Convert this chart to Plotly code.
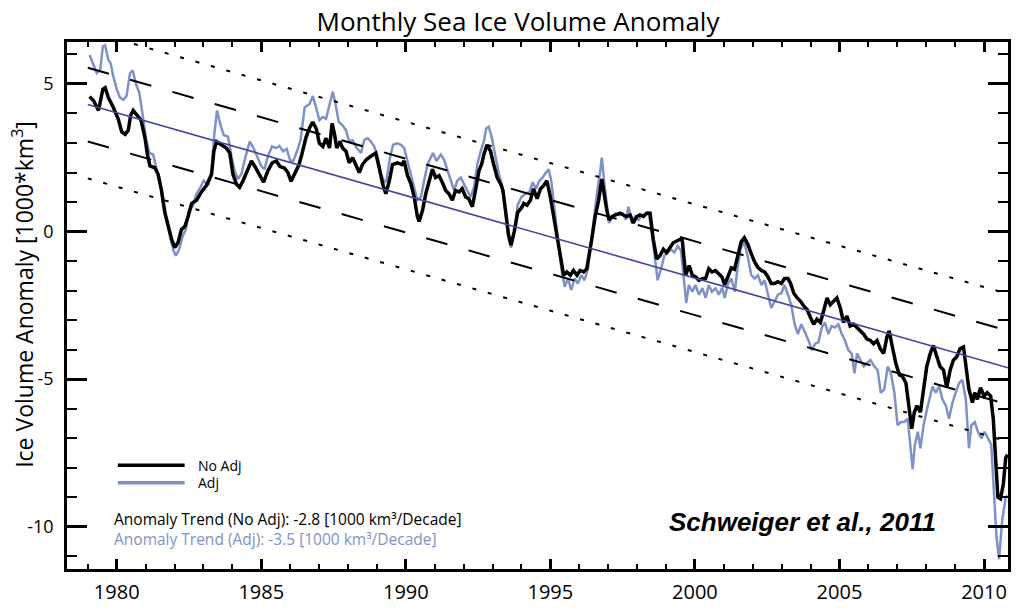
import numpy as np
import plotly.graph_objects as go

# ---- monthly anomaly series [1000 km^3] ----
noadj_t = [1979.06, 1979.20, 1979.37, 1979.52, 1979.60, 1979.71, 1979.88, 1980.05, 1980.17, 1980.29,
           1980.40, 1980.48, 1980.57, 1980.71, 1980.84, 1980.98, 1981.06, 1981.15, 1981.32, 1981.43,
           1981.55, 1981.67, 1981.78, 1981.90, 1982.01, 1982.12, 1982.24, 1982.36, 1982.47, 1982.59,
           1982.76, 1982.93, 1983.10, 1983.28, 1983.36, 1983.45, 1983.62, 1983.79, 1983.91, 1984.02,
           1984.14, 1984.25, 1984.37, 1984.54, 1984.66, 1984.77, 1984.94, 1985.08, 1985.23, 1985.38,
           1985.52, 1985.65, 1985.80, 1985.92, 1986.03, 1986.18, 1986.30, 1986.40, 1986.55, 1986.69,
           1986.78, 1986.90, 1987.01, 1987.13, 1987.24, 1987.36, 1987.45, 1987.53, 1987.61, 1987.72,
           1987.81, 1987.93, 1988.04, 1988.16, 1988.28, 1988.39, 1988.50, 1988.64, 1988.79, 1988.96,
           1989.08, 1989.20, 1989.31, 1989.43, 1989.54, 1989.71, 1989.86, 1989.94, 1990.06, 1990.18,
           1990.29, 1990.40, 1990.46, 1990.58, 1990.69, 1990.80, 1990.92, 1991.03, 1991.15, 1991.26,
           1991.38, 1991.49, 1991.61, 1991.72, 1991.84, 1991.95, 1992.07, 1992.18, 1992.30, 1992.41,
           1992.53, 1992.62, 1992.70, 1992.81, 1992.93, 1993.04, 1993.16, 1993.28, 1993.36, 1993.45,
           1993.55, 1993.64, 1993.75, 1993.87, 1994.00, 1994.08, 1994.19, 1994.31, 1994.42, 1994.54,
           1994.66, 1994.77, 1994.88, 1995.00, 1995.11, 1995.23, 1995.34, 1995.46, 1995.57, 1995.69,
           1995.80, 1995.92, 1996.03, 1996.15, 1996.26, 1996.34, 1996.43, 1996.55, 1996.67, 1996.78,
           1996.87, 1996.95, 1997.03, 1997.14, 1997.26, 1997.41, 1997.53, 1997.64, 1997.76, 1997.87,
           1997.99, 1998.10, 1998.22, 1998.33, 1998.45, 1998.56, 1998.68, 1998.79, 1998.91, 1999.02,
           1999.14, 1999.25, 1999.37, 1999.48, 1999.56, 1999.68, 1999.80, 1999.91, 2000.03, 2000.14,
           2000.26, 2000.37, 2000.48, 2000.59, 2000.71, 2000.83, 2000.94, 2001.03, 2001.15, 2001.26,
           2001.37, 2001.49, 2001.60, 2001.71, 2001.83, 2001.95, 2002.07, 2002.18, 2002.30, 2002.41,
           2002.53, 2002.64, 2002.76, 2002.87, 2002.99, 2003.10, 2003.22, 2003.31, 2003.42, 2003.54,
           2003.66, 2003.77, 2003.88, 2004.00, 2004.11, 2004.22, 2004.34, 2004.45, 2004.57, 2004.68,
           2004.80, 2004.91, 2005.03, 2005.14, 2005.26, 2005.37, 2005.49, 2005.60, 2005.72, 2005.83,
           2005.95, 2006.07, 2006.18, 2006.30, 2006.41, 2006.53, 2006.64, 2006.72, 2006.83, 2006.95,
           2007.07, 2007.18, 2007.30, 2007.41, 2007.50, 2007.59, 2007.68, 2007.80, 2007.91, 2008.02,
           2008.14, 2008.25, 2008.37, 2008.48, 2008.60, 2008.71, 2008.83, 2008.94, 2009.06, 2009.17,
           2009.29, 2009.40, 2009.48, 2009.60, 2009.68, 2009.77, 2009.88, 2010.00, 2010.11, 2010.23,
           2010.32, 2010.40, 2010.48, 2010.57, 2010.67, 2010.75, 2010.81]
noadj_v = [4.57, 4.43, 4.10, 4.82, 4.87, 4.54, 4.21, 3.82, 3.38, 3.29,
           3.43, 3.93, 4.10, 3.95, 3.77, 3.16, 2.61, 2.22, 2.16, 1.94,
           1.39, 0.62, 0.18, -0.27, -0.54, -0.38, 0.07, 0.18, 0.51, 0.95,
           1.06, 1.34, 1.56, 1.94, 2.72, 3.05, 2.94, 2.83, 2.66, 1.94,
           1.61, 1.50, 1.72, 2.16, 2.39, 2.22, 1.94, 1.67, 2.06, 2.33,
           2.39, 2.20, 2.15, 2.00, 1.70, 2.00, 2.25, 2.60, 3.20, 3.55,
           3.71, 3.49, 2.99, 2.88, 3.16, 2.83, 3.66, 3.32, 2.83, 3.05,
           2.83, 2.72, 2.33, 2.50, 2.27, 2.00, 2.27, 2.44, 2.55, 2.66,
           2.16, 1.61, 1.28, 1.72, 2.27, 2.33, 2.27, 2.39, 1.89, 1.61,
           1.17, 0.51, 0.34, 0.73, 1.28, 1.67, 2.11, 1.83, 1.89, 1.67,
           1.39, 1.28, 1.06, 1.39, 1.34, 1.45, 1.17, 1.11, 0.84, 1.39,
           2.06, 2.27, 2.61, 2.94, 2.72, 2.27, 1.83, 1.61, 1.39, 0.70,
           -0.10, -0.46, 0.00, 0.65, 0.80, 0.95, 0.89, 1.06, 1.45, 1.11,
           1.45, 1.56, 1.72, 1.17, 0.51, -0.16, -0.93, -1.48, -1.37, -1.48,
           -1.32, -1.48, -1.32, -1.37, -1.26, -0.82, -0.27, 0.51, 1.06, 1.78,
           1.17, 0.73, 0.40, 0.51, 0.56, 0.62, 0.56, 0.51, 0.56, 0.29,
           0.51, 0.56, 0.51, 0.62, 0.62, -0.27, -0.93, -0.82, -0.60, -0.71,
           -0.54, -0.38, -0.32, -0.27, -0.27, -1.48, -1.15, -1.48, -1.54, -1.65,
           -1.59, -1.59, -1.26, -1.37, -1.32, -1.43, -1.55, -1.81, -1.50, -1.23,
           -1.28, -0.82, -0.35, -0.21, -0.43, -0.76, -1.04, -1.21, -1.32, -1.37,
           -1.54, -1.76, -1.76, -1.70, -1.76, -1.59, -1.59, -1.76, -2.09, -2.25,
           -2.37, -2.53, -2.64, -2.92, -3.14, -2.97, -3.08, -2.70, -2.25, -2.48,
           -2.37, -2.25, -2.59, -3.08, -2.86, -3.20, -3.14, -3.25, -3.36, -3.47,
           -3.64, -3.69, -3.80, -3.69, -3.97, -4.13, -3.58, -3.36, -3.91, -4.46,
           -4.85, -4.91, -5.13, -5.90, -6.68, -6.12, -5.90, -6.12, -5.35, -4.57,
           -4.13, -3.86, -4.24, -4.57, -4.69, -5.29, -4.69, -4.36, -4.24, -3.97,
           -3.91, -4.80, -5.35, -5.79, -5.46, -5.68, -5.29, -5.57, -5.46, -5.57,
           -6.34, -7.67, -9.00, -9.05, -8.55, -7.67, -7.55]

adj_t = [1979.06, 1979.20, 1979.31, 1979.43, 1979.52, 1979.60, 1979.71, 1979.79, 1979.88, 1980.00,
         1980.11, 1980.23, 1980.34, 1980.46, 1980.55, 1980.67, 1980.78, 1980.90, 1981.01, 1981.13,
         1981.26, 1981.38, 1981.49, 1981.61, 1981.72, 1981.84, 1981.95, 1982.04, 1982.16, 1982.28,
         1982.39, 1982.50, 1982.62, 1982.76, 1982.87, 1983.01, 1983.16, 1983.28, 1983.36, 1983.47,
         1983.59, 1983.70, 1983.85, 1983.97, 1984.08, 1984.19, 1984.31, 1984.46, 1984.60, 1984.73,
         1984.88, 1985.00, 1985.11, 1985.23, 1985.37, 1985.52, 1985.63, 1985.75, 1985.88, 1986.00,
         1986.11, 1986.23, 1986.36, 1986.50, 1986.67, 1986.78, 1986.88, 1987.01, 1987.13, 1987.24,
         1987.38, 1987.47, 1987.56, 1987.68, 1987.81, 1987.93, 1988.04, 1988.16, 1988.30, 1988.45,
         1988.56, 1988.68, 1988.79, 1988.91, 1989.03, 1989.14, 1989.26, 1989.33, 1989.45, 1989.56,
         1989.71, 1989.83, 1989.94, 1990.06, 1990.18, 1990.29, 1990.40, 1990.52, 1990.63, 1990.75,
         1990.86, 1990.94, 1991.06, 1991.21, 1991.32, 1991.43, 1991.55, 1991.67, 1991.78, 1991.90,
         1992.01, 1992.12, 1992.24, 1992.36, 1992.47, 1992.59, 1992.70, 1992.78, 1992.87, 1992.98,
         1993.10, 1993.22, 1993.33, 1993.45, 1993.55, 1993.64, 1993.75, 1993.87, 1994.00, 1994.14,
         1994.28, 1994.39, 1994.50, 1994.62, 1994.73, 1994.85, 1994.94, 1995.03, 1995.15, 1995.26,
         1995.38, 1995.50, 1995.61, 1995.72, 1995.84, 1995.95, 1996.07, 1996.18, 1996.30, 1996.38,
         1996.50, 1996.61, 1996.72, 1996.78, 1996.87, 1996.95, 1997.03, 1997.14, 1997.26, 1997.38,
         1997.49, 1997.61, 1997.70, 1997.82, 1997.93, 1998.05, 1998.16, 1998.28, 1998.39, 1998.48,
         1998.60, 1998.71, 1998.83, 1998.94, 1999.06, 1999.17, 1999.29, 1999.40, 1999.52, 1999.61,
         1999.70, 1999.79, 1999.91, 2000.02, 2000.14, 2000.26, 2000.37, 2000.48, 2000.59, 2000.71,
         2000.83, 2000.94, 2001.03, 2001.15, 2001.26, 2001.38, 2001.47, 2001.58, 2001.70, 2001.82,
         2001.95, 2002.07, 2002.18, 2002.30, 2002.41, 2002.53, 2002.64, 2002.76, 2002.87, 2002.99,
         2003.10, 2003.22, 2003.33, 2003.45, 2003.56, 2003.68, 2003.79, 2003.93, 2004.05, 2004.16,
         2004.27, 2004.39, 2004.50, 2004.61, 2004.73, 2004.85, 2004.96, 2005.08, 2005.19, 2005.31,
         2005.42, 2005.52, 2005.61, 2005.72, 2005.84, 2005.95, 2006.07, 2006.21, 2006.32, 2006.43,
         2006.55, 2006.67, 2006.78, 2006.90, 2007.01, 2007.13, 2007.24, 2007.36, 2007.45, 2007.53,
         2007.61, 2007.71, 2007.80, 2007.91, 2008.03, 2008.14, 2008.22, 2008.33, 2008.45, 2008.56,
         2008.68, 2008.79, 2008.91, 2009.02, 2009.14, 2009.25, 2009.37, 2009.48, 2009.56, 2009.68,
         2009.79, 2009.91, 2010.02, 2010.14, 2010.25, 2010.34, 2010.43, 2010.52, 2010.63, 2010.75,
         2010.81]
adj_v = [5.98, 5.64, 5.37, 5.48, 6.27, 6.31, 5.81, 5.70, 5.26, 4.82,
         4.54, 4.46, 4.59, 5.37, 5.46, 4.98, 4.71, 3.93, 3.16, 2.66,
         2.61, 2.11, 1.78, 0.84, 0.34, -0.16, -0.60, -0.82, -0.60, -0.16,
         0.07, 0.73, 0.84, 1.28, 1.45, 1.72, 1.56, 1.94, 3.16, 4.10,
         3.60, 3.27, 3.21, 2.55, 2.06, 1.78, 1.94, 2.55, 3.05, 2.83,
         2.50, 2.22, 2.11, 2.55, 2.88, 2.83, 2.90, 2.72, 2.80, 2.40,
         2.40, 2.70, 3.10, 4.20, 4.32, 4.59, 4.26, 3.77, 3.88, 3.82,
         4.37, 4.73, 4.37, 3.71, 3.60, 3.43, 3.05, 3.10, 2.83, 2.66,
         3.10, 3.16, 3.05, 2.88, 2.50, 1.94, 1.67, 1.72, 2.50, 2.94,
         2.99, 2.94, 2.83, 2.39, 1.94, 1.45, 1.06, 1.17, 1.72, 2.27,
         2.50, 2.66, 2.39, 2.61, 2.44, 2.11, 1.72, 1.39, 1.72, 1.83,
         1.61, 1.39, 1.17, 1.50, 2.27, 2.72, 3.05, 3.49, 3.55, 3.16,
         2.50, 1.95, 1.55, 0.62, -0.20, -0.55, 0.00, 0.90, 1.17, 1.28,
         1.34, 1.67, 1.45, 1.72, 1.83, 2.00, 2.11, 1.72, 0.62, -0.38,
         -1.26, -1.87, -1.59, -1.98, -1.59, -1.76, -1.48, -1.65, -1.26, -0.60,
         0.40, 1.28, 2.00, 2.50, 1.61, 0.95, 0.29, 0.51, 0.62, 0.56,
         0.62, 0.40, 0.84, 0.29, 0.51, 0.40, 0.56, 0.56, 0.67, 0.18,
         -0.82, -1.65, -1.26, -0.82, -0.71, -0.60, -0.71, -0.49, -0.65, -1.48,
         -2.42, -1.81, -2.04, -1.81, -2.14, -1.92, -2.25, -1.81, -2.04, -1.92,
         -2.14, -1.90, -2.25, -1.76, -1.59, -2.04, -1.26, -0.60, -0.32, -0.82,
         -1.48, -1.59, -1.48, -1.81, -1.65, -2.14, -2.59, -2.37, -2.14, -2.09,
         -1.81, -2.14, -2.48, -3.14, -3.47, -3.14, -3.36, -3.69, -4.02, -3.80,
         -3.75, -3.25, -3.08, -3.47, -3.20, -3.25, -3.14, -3.47, -3.69, -4.02,
         -4.13, -4.80, -4.13, -4.35, -4.57, -4.46, -4.35, -4.57, -4.69, -5.46,
         -5.35, -4.57, -4.80, -5.46, -6.56, -6.45, -6.45, -6.34, -7.22, -8.05,
         -7.22, -6.78, -7.34, -6.56, -6.01, -5.57, -5.24, -5.46, -5.24, -5.68,
         -5.90, -6.34, -5.79, -5.46, -5.13, -5.02, -5.68, -7.34, -6.56, -6.45,
         -6.78, -7.01, -6.78, -7.01, -7.22, -8.77, -10.32, -11.10, -9.77, -9.00,
         -8.94]

# ---- trend (No Adj) and spread bands ----
TREND_NOADJ = -2.8      # 1000 km^3 per decade
TREND_ADJ = -3.5        # 1000 km^3 per decade
TREND_REF_YEAR = 1995.0
TREND_REF_VALUE = -0.18
BAND_STEP = 1.25        # 1000 km^3
TREND_SPAN = [1979.0, 2010.83]

x_tickvals = [1980, 1985, 1990, 1995, 2000, 2005, 2010]
x_ticktext = ["1980", "1985", "1990", "1995", "2000", "2005", "2010"]
y_tickvals = [-10, -5, 0, 5]
y_ticktext = ["-10", "-5", "0", "5"]
X_RANGE = [1978.28, 2010.83]
Y_RANGE = [-11.43, 6.42]

BLACK = "#000000"
ADJ_BLUE = "#7f92c8"
TREND_BLUE = "#45459c"
FONT = "Open Sans"

W, H = 1019, 613
M = dict(l=67, r=8, t=42, b=33)
PW = W - M["l"] - M["r"]
PH = H - M["t"] - M["b"]


def px_x(px):
    return (px - M["l"]) / PW


def px_y(py):
    return (H - M["b"] - py) / PH


fig = go.Figure()

fig.add_trace(go.Scatter(x=adj_t, y=adj_v, mode="lines", name="Adj",
                         line=dict(color=ADJ_BLUE, width=2.5), showlegend=False))
fig.add_trace(go.Scatter(x=noadj_t, y=noadj_v, mode="lines", name="No Adj",
                         line=dict(color=BLACK, width=3.5), showlegend=False))

tt = np.array(TREND_SPAN)
trend = TREND_REF_VALUE + TREND_NOADJ / 10.0 * (tt - TREND_REF_YEAR)
for k, dash in [(2, "4px,12px"), (-2, "4px,12px"), (1, "22px,22px"), (-1, "22px,22px")]:
    fig.add_trace(go.Scatter(x=tt, y=trend + k * BAND_STEP, mode="lines",
                             line=dict(color=BLACK, width=2, dash=dash),
                             showlegend=False, hoverinfo="skip"))
fig.add_trace(go.Scatter(x=tt, y=trend, mode="lines",
                         line=dict(color=TREND_BLUE, width=1.6),
                         showlegend=False, hoverinfo="skip"))

axis_common = dict(showline=True, linecolor=BLACK, linewidth=2.5, mirror="ticks",
                   ticks="inside", tickcolor=BLACK, showgrid=False, zeroline=False)
fig.update_xaxes(range=X_RANGE, tickvals=x_tickvals, ticktext=x_ticktext,
                 ticklen=10, tickwidth=2.5,
                 minor=dict(dtick=1, tick0=1980, ticks="inside", ticklen=5, tickwidth=2,
                            tickcolor=BLACK),
                 tickfont=dict(family=FONT, size=20, color=BLACK),
                 ticklabelstandoff=3, **axis_common)
fig.update_yaxes(range=Y_RANGE, tickvals=y_tickvals, ticktext=y_ticktext,
                 ticklen=20, tickwidth=2.5,
                 minor=dict(dtick=1, tick0=0, ticks="inside", ticklen=10, tickwidth=2,
                            tickcolor=BLACK),
                 tickfont=dict(family=FONT, size=18, color=BLACK),
                 ticklabelstandoff=7, **axis_common)

annotations = [
    dict(text="Ice Volume Anomaly [1000*km<sup>3</sup>]", x=px_x(23), y=px_y(300),
         textangle=-90, font=dict(family=FONT, size=23, color=BLACK)),
    dict(text="No Adj", x=px_x(196), y=px_y(474), xanchor="left",
         font=dict(family=FONT, size=14, color=BLACK)),
    dict(text="Adj", x=px_x(196), y=px_y(492), xanchor="left",
         font=dict(family=FONT, size=14, color=BLACK)),
    dict(text=f"Anomaly Trend (No Adj): {TREND_NOADJ:.1f} [1000 km³/Decade]",
         x=px_x(112), y=px_y(529), xanchor="left",
         font=dict(family=FONT, size=15.5, color=BLACK)),
    dict(text=f"Anomaly Trend (Adj): {TREND_ADJ:.1f} [1000 km³/Decade]",
         x=px_x(112), y=px_y(549), xanchor="left",
         font=dict(family=FONT, size=15.5, color=ADJ_BLUE)),
    dict(text="<b><i>Schweiger et al., 2011</i></b>", x=px_x(805), y=px_y(532),
         font=dict(family="Liberation Sans", size=26, color=BLACK)),
]
for a in annotations:
    a.update(xref="paper", yref="paper", showarrow=False, yanchor="middle")
    a.setdefault("xanchor", "center")

shapes = [
    dict(type="line", x0=px_x(118), x1=px_x(185), y0=px_y(474), y1=px_y(474),
         line=dict(color=BLACK, width=3.5)),
    dict(type="line", x0=px_x(118), x1=px_x(185), y0=px_y(492), y1=px_y(492),
         line=dict(color=ADJ_BLUE, width=3.5)),
]
for s in shapes:
    s.update(xref="paper", yref="paper")

fig.update_layout(
    width=W, height=H, autosize=False, margin=M,
    paper_bgcolor="white", plot_bgcolor="white",
    title=dict(text="Monthly Sea Ice Volume Anomaly", x=518 / W, y=1 - 22 / H,
               xanchor="center", yanchor="middle",
               font=dict(family=FONT, size=26, color=BLACK)),
    annotations=annotations, shapes=shapes, showlegend=False,
)

fig.write_html("out.html")
